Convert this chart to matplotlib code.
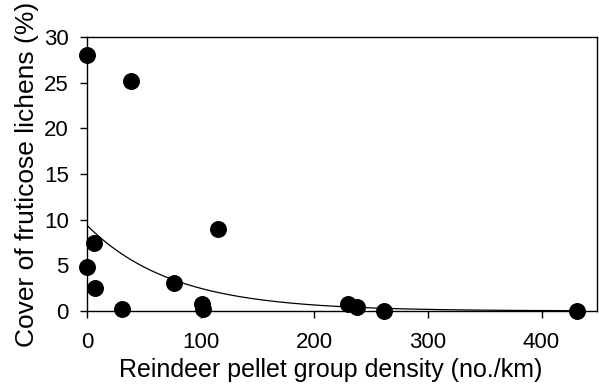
import numpy as np
import matplotlib
matplotlib.use("Agg")
import matplotlib.pyplot as plt

plt.rcParams['font.family'] = ['Liberation Sans', 'DejaVu Sans']

density = [0, 39, 6, 0, 7, 31, 77, 101, 102, 115, 230, 238, 261, 431]
cover = [28.0, 25.2, 7.4, 4.8, 2.5, 0.2, 3.1, 0.8, 0.2, 9.0, 0.8, 0.45, 0.0, 0.0]

# fitted exponential curve parameters
fit_a = 9.4
fit_b = 0.0133

xticks = [0, 100, 200, 300, 400]
yticks = [0, 5, 10, 15, 20, 25, 30]

fig = plt.figure(figsize=(5.99, 3.90), dpi=100)
ax = fig.add_axes([0.145, 0.2026, 0.852, 0.7024])

xf = np.linspace(0, 430, 300)
ax.plot(xf, fit_a * np.exp(-fit_b * xf), color='black', lw=0.9, zorder=2)
ax.scatter(density, cover, s=125, color='black', zorder=3, clip_on=False)

ax.set_xlim(0, 449)
ax.set_ylim(0, 30)
ax.set_xticks(xticks)
ax.set_yticks(yticks)
ax.tick_params(labelsize=16, length=5, width=1, direction='out')
ax.tick_params(axis='x', pad=10)
ax.tick_params(axis='y', pad=8)
for s in ax.spines.values():
    s.set_linewidth(1)
ax.set_xlabel('Reindeer pellet group density (no./km)', fontsize=18)
ax.xaxis.set_label_coords(0.478, -0.17)
ax.set_ylabel('Cover of fruticose lichens (%)', fontsize=19)
ax.yaxis.set_label_coords(-0.094, 0.5)

fig.savefig('out.png', dpi=100)
